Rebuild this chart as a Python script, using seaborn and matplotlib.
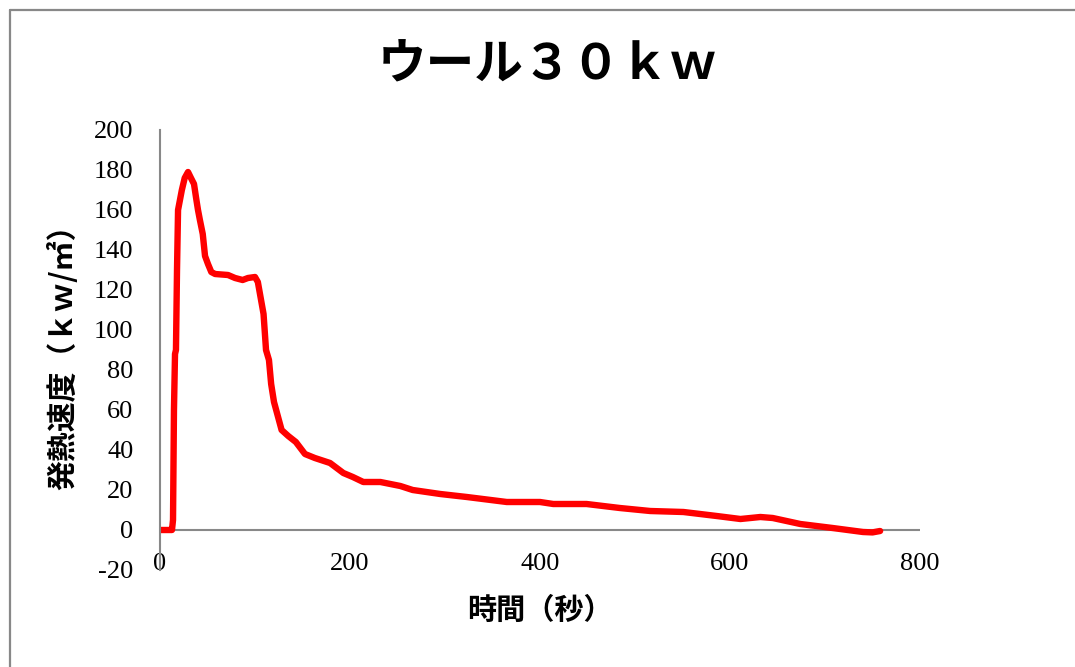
import matplotlib
matplotlib.use("Agg")
import matplotlib.pyplot as plt
from matplotlib.lines import Line2D
import seaborn as sns
import pandas as pd

# Heat release rate of wool, 30 kW burner
time_s = [0, 5, 10, 12.6, 13.7, 14.7, 15.8, 16.8, 17.9, 19, 21, 23, 26, 29.5, 32.6,
          35.8, 38, 40, 42, 45, 47.4, 50.5, 54, 58, 71.6, 79, 87, 92.6, 100, 103,
          106, 109, 111.6, 114.7, 117, 120, 124, 128, 135, 143, 152.6, 163, 179,
          193, 203, 214, 232, 253, 266, 295, 323, 365, 400, 414, 449, 484, 516,
          551, 586, 611, 632, 645, 674, 708, 740, 750, 758]
hrr_kw_m2 = [0, 0, 0, 0, 5, 60, 88, 90, 130, 160, 165, 170, 176, 179, 176,
             173, 166, 160, 155, 148, 137, 133, 129, 128, 127.5, 126, 125, 126, 126.5, 124,
             116, 108, 90, 85, 73, 64, 57, 50, 47, 44, 38, 36, 33.5,
             28.5, 26.5, 24, 24, 22, 20, 18, 16.5, 14, 14, 13, 13, 11, 9.5,
             9, 7, 5.5, 6.5, 6, 3, 1, -1, -1.2, -0.5]

title_text = "ウール３０ｋｗ"
x_label = "時間（秒）"
y_label = "発熱速度（ｋｗ/㎡）"
x_ticks = [0, 200, 400, 600, 800]
y_ticks = [-20, 0, 20, 40, 60, 80, 100, 120, 140, 160, 180, 200]

sns.set_style("white")
cjk = ["Noto Sans CJK JP", "DejaVu Sans"]
plt.rcParams["font.family"] = cjk
plt.rcParams["text.color"] = "black"
plt.rcParams["axes.labelcolor"] = "black"
plt.rcParams["xtick.color"] = "black"
plt.rcParams["ytick.color"] = "black"

df = pd.DataFrame({"t": time_s, "q": hrr_kw_m2})

fig = plt.figure(figsize=(10.75, 6.67), dpi=100)
ax = fig.add_axes([160 / 1075, 1 - 570 / 667, 760 / 1075, 440 / 667])

sns.lineplot(data=df, x="t", y="q", color="#ff0000", linewidth=4.6, ax=ax,
             estimator=None, sort=False)
for ln in ax.lines:
    ln.set_solid_capstyle("round")
    ln.set_solid_joinstyle("round")

ax.set_xlim(0, 800)
ax.set_ylim(-20, 200)
ax.set_xticks(x_ticks)
ax.set_yticks(y_ticks)
serif = {"family": "Liberation Serif", "size": 19}
ax.set_xticklabels([str(v) for v in x_ticks], fontdict=serif)
ax.set_yticklabels([str(v) for v in y_ticks], fontdict=serif)
ax.tick_params(axis="y", length=0, pad=19)
ax.tick_params(axis="x", length=0, pad=-12)

for side in ["top", "right", "bottom"]:
    ax.spines[side].set_visible(False)
ax.spines["left"].set_color("#888888")
ax.spines["left"].set_linewidth(1.5)
ax.axhline(0, color="#888888", linewidth=1.5, zorder=1)

ax.set_xlabel(x_label, fontsize=21, fontweight="bold", labelpad=14)
ax.set_ylabel(y_label, fontsize=21.5, fontweight="bold", labelpad=11)

fig.text(548 / 1075, 1 - 65 / 667, title_text, ha="center", va="center",
         fontsize=35, fontweight="bold")

# outer chart frame
fig.add_artist(Line2D([9.5 / 1075, 9.5 / 1075], [0, 1 - 9.5 / 667],
                      transform=fig.transFigure, color="#888888", linewidth=1.6))
fig.add_artist(Line2D([9.5 / 1075, 1], [1 - 9.5 / 667, 1 - 9.5 / 667],
                      transform=fig.transFigure, color="#888888", linewidth=1.6))

fig.savefig("out.png", dpi=100, facecolor="white")
